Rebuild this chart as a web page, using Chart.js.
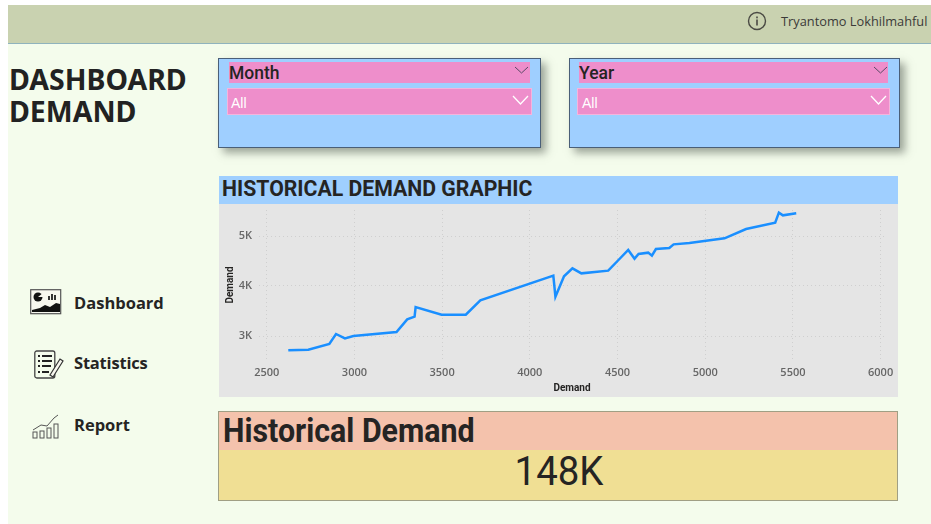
<!DOCTYPE html>
<html>
<head>
<meta charset="utf-8">
<title>Dashboard Demand</title>
<script src="https://cdn.jsdelivr.net/npm/chart.js@4"></script>
<style>
    html, body { margin: 0; padding: 0; background: #fff; }
    #page { position: relative; width: 931px; height: 524px; overflow: hidden; background: #fff; font-family: Roboto, sans-serif; color: #252423; }
    #page div, #page svg, #page canvas { position: absolute; }
    .bg { left: 8px; top: 5px; width: 923px; height: 519px; background: #f4fcec; }
    .topbar { left: 8px; top: 5px; width: 923px; height: 38px; background: #c9d2b0; border-bottom: 1px solid #8fb3bd; }
    .user { left: 781px; top: 12px; font: 12.8px "Open Sans", sans-serif; color: #3b3a39; white-space: nowrap; }
    .heading { left: 9px; top: 63px; font: bold 28.5px/32px "Noto Sans", sans-serif; color: #222; white-space: nowrap; }
    .slicer { top: 58px; height: 88px; background: #9fcfff; border: 1px solid #4a5f78; box-shadow: 5px 5px 8px rgba(70, 80, 70, 0.5); }
    .pink { background: #ee8ecb; }
    .head { font: 500 17.5px/23px Roboto, sans-serif; color: #252423; top: 62px; height: 21px; }
    .all { font: 14px/28px "Liberation Sans", sans-serif; color: #fff; top: 88px; height: 27px; border: 1px solid #f5b4dc; box-sizing: border-box; }
    .title-bar { left: 219px; top: 176px; width: 679px; height: 28px; background: #9fcfff; }
    .title-text { left: 222px; top: 176px; font: 700 22px/26px Roboto, sans-serif; transform-origin: left center; transform: scaleX(0.965); white-space: nowrap; }
    .panel { left: 219px; top: 204px; width: 679px; height: 193px; background: #e5e5e5; }
    .nav { left: 74px; font: 700 16.5px/22px "Open Sans", sans-serif; color: #252423; white-space: nowrap; }
    .kpi { left: 218px; top: 411px; width: 678px; height: 88px; border: 1px solid #a09f84; background: #f0df94; }
    .kpi-head { left: 219px; top: 412px; width: 678px; height: 38px; background: #f4c2ac; }
    .kpi-title { left: 223px; top: 412px; font: 700 33px/38px Roboto, sans-serif; transform-origin: left center; transform: scaleX(0.92); white-space: nowrap; }
    .kpi-value { left: 220px; width: 678px; top: 449px; text-align: center; font: 400 40px/46px Roboto, sans-serif; color: #252423; transform: scaleX(0.96); }
</style>
</head>
<body>
<div id="page">
    <div class="bg"></div>
    <div class="topbar"></div>
    <svg style="left:747px;top:11px" width="20" height="20" viewBox="0 0 20 20">
        <circle cx="10" cy="10" r="8.5" fill="none" stroke="#4a4a44" stroke-width="1.4"/>
        <rect x="9.2" y="8.5" width="1.6" height="6" fill="#4a4a44"/>
        <rect x="9.2" y="5.5" width="1.6" height="1.8" fill="#4a4a44"/>
    </svg>
    <div class="user">Tryantomo Lokhilmahful</div>
    <div class="heading">DASHBOARD<br>DEMAND</div>

    <div class="slicer" style="left:218px;width:321px"></div>
    <div class="pink head" style="left:229px;width:301px;padding-left:0">Month</div>
    <div class="pink all" style="left:227px;width:305px;padding-left:3px">All</div>
    <svg style="left:514px;top:66px" width="16" height="9"><path d="M1 1 L7.5 7 L14 1" fill="none" stroke="#5b4a66" stroke-width="1"/></svg>
    <svg style="left:512px;top:95px" width="18" height="11"><path d="M1 1 L8.5 9 L16 1" fill="none" stroke="#fff" stroke-width="1.3"/></svg>

    <div class="slicer" style="left:569px;width:329px"></div>
    <div class="pink head" style="left:579px;width:309px">Year</div>
    <div class="pink all" style="left:577px;width:313px;padding-left:4px">All</div>
    <svg style="left:873px;top:66px" width="16" height="9"><path d="M1 1 L7.5 7 L14 1" fill="none" stroke="#5b4a66" stroke-width="1"/></svg>
    <svg style="left:870px;top:95px" width="18" height="11"><path d="M1 1 L8.5 9 L16 1" fill="none" stroke="#fff" stroke-width="1.3"/></svg>

    <div class="title-bar"></div>
    <div class="title-text">HISTORICAL DEMAND GRAPHIC</div>
    <div class="panel"></div>
    <canvas id="demand-chart" width="679" height="193" style="left:219px;top:204px"></canvas>

    <!-- Sidebar icons -->
    <svg style="left:30px;top:289px" width="32" height="26" viewBox="0 0 32 26">
        <rect x="0.7" y="0.7" width="30" height="24" fill="#f7f7ef" stroke="#555" stroke-width="1.2"/>
        <circle cx="8" cy="8" r="4.5" fill="#111"/>
        <path d="M8 8 L13 4 L14 8 Z" fill="#f7f7ef"/>
        <rect x="18" y="7" width="2" height="4" fill="#333"/><rect x="21" y="5" width="2" height="6" fill="#333"/><rect x="24" y="6" width="2" height="5" fill="#333"/>
        <path d="M2 23 L2 21 L10 19 L15 16 L20 18 L26 14 L30 15 L30 23 Z" fill="#111"/>
    </svg>
    <svg style="left:34px;top:350px" width="30" height="30" viewBox="0 0 30 30">
        <rect x="0.8" y="1" width="20" height="27" rx="2" fill="none" stroke="#444" stroke-width="1.3"/>
        <path d="M4 6h2M8 6h10M4 11h2M8 11h10M4 16h2M8 16h9M4 22h2M8 22h7" stroke="#222" stroke-width="1.8"/>
        <path d="M16 25 L26 9 L29 11 L19 27 Z" fill="#f7f7ef" stroke="#333" stroke-width="1.2"/>
    </svg>
    <svg style="left:32px;top:413px" width="28" height="26" viewBox="0 0 28 26">
        <path d="M1 17 L9 12 L15 13 L22 5 L26 2" fill="none" stroke="#555" stroke-width="1"/>
        <rect x="1" y="19" width="4" height="6" fill="none" stroke="#555"/>
        <rect x="8" y="18" width="4" height="7" fill="none" stroke="#555"/>
        <rect x="15" y="15" width="4" height="10" fill="none" stroke="#555"/>
        <rect x="22" y="11" width="4" height="14" fill="none" stroke="#555"/>
    </svg>
    <div class="nav" style="top:292px">Dashboard</div>
    <div class="nav" style="top:352px;letter-spacing:-0.2px">Statistics</div>
    <div class="nav" style="top:414px">Report</div>

    <div class="kpi"></div>
    <div class="kpi-head"></div>
    <div class="kpi-title">Historical Demand</div>
    <div class="kpi-value">148K</div>
</div>

<script>
// Data
const demandX = [2623, 2737, 2857, 2895, 2946, 2994, 3240, 3301, 3343, 3349, 3497, 3635, 3718, 4134, 4146, 4195, 4243, 4294, 4447, 4500, 4561, 4597, 4620, 4675, 4696, 4719, 4795, 4820, 4910, 5110, 5233, 5399, 5420, 5443, 5519];
const demandY = [2713, 2727, 2840, 3040, 2953, 3000, 3080, 3333, 3387, 3580, 3427, 3427, 3713, 4207, 3787, 4193, 4353, 4253, 4307, 4500, 4720, 4547, 4640, 4667, 4607, 4740, 4760, 4833, 4860, 4953, 5140, 5267, 5467, 5413, 5453];
const xTicks = [2500, 3000, 3500, 4000, 4500, 5000, 5500, 6000];
const yTicks = [3000, 4000, 5000];
const axisTitle = "Demand";

// Element
const chartElement = document.querySelector("#demand-chart");

const gridStyle = {
    color: "#cfcfcf",
    lineWidth: 1,
    drawTicks: false
};
const borderStyle = { display: false, dash: [1, 3] };
const tickFont = { family: "'Open Sans', sans-serif", size: 11, weight: "600" };
const titleFont = { family: "Roboto, sans-serif", size: 10, weight: "bold" };

new Chart(chartElement, {
    type: "scatter",
    data: {
        datasets: [{
            label: axisTitle,
            data: demandX.map((x, i) => ({x: x, y: demandY[i]})),
            showLine: true,
            borderColor: "#1a8fff",
            borderWidth: 2.5,
            pointRadius: 0,
            tension: 0
        }]
    },
    options: {
        responsive: false,
        animation: false,
        layout: { padding: { top: 6, right: 13, bottom: 0, left: 0 } },
        plugins: { legend: { display: false }, tooltip: { enabled: false } },
        scales: {
            x: {
                type: "linear",
                min: 2456,
                max: 6025,
                afterBuildTicks: scale => { scale.ticks = xTicks.map(v => ({value: v})); },
                afterFit: scale => { scale.height = 37; scale.paddingLeft = 0; scale.paddingRight = 0; },
                grid: { ...gridStyle },
                border: borderStyle,
                ticks: { color: "#666", font: tickFont, padding: 6, maxRotation: 0, callback: v => String(v) },
                title: { display: true, text: axisTitle, color: "#252423", font: titleFont, padding: { top: 1, bottom: 3 } }
            },
            y: {
                type: "linear",
                min: 2520,
                max: 5520,
                afterBuildTicks: scale => { scale.ticks = yTicks.map(v => ({value: v})); },
                afterFit: scale => { scale.width = 40; scale.paddingTop = 0; scale.paddingBottom = 0; },
                grid: { ...gridStyle },
                border: borderStyle,
                ticks: { color: "#666", font: tickFont, padding: 7, callback: v => (v / 1000) + "K" },
                title: { display: true, text: axisTitle, color: "#252423", font: titleFont, padding: { top: 5, bottom: 0 } }
            }
        }
    }
});
</script>
</body>
</html>
